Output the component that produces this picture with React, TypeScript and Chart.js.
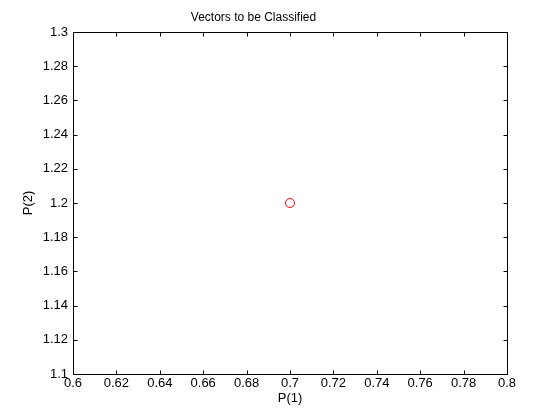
import React, { useEffect, useRef } from "react";
import { Chart, registerables } from "chart.js";

Chart.register(...registerables);

const titleText = "Vectors to be Classified";
const xLabel = "P(1)";
const yLabel = "P(2)";
const pointX = [0.7];
const pointY = [1.2];
const xRange = [0.6, 0.8];
const yRange = [1.1, 1.3];
const tickStep = 0.02;

const FONT = "'Liberation Sans', Arial, Helvetica, sans-serif";

const boxPlugin = {
  id: "matlabBox",
  afterDraw(chart: any) {
    const { ctx, chartArea } = chart;
    const { left, right, top, bottom } = chartArea;
    const xs = chart.scales.x;
    const ys = chart.scales.y;
    const len = 4;
    ctx.save();
    ctx.strokeStyle = "#000";
    ctx.lineWidth = 1;
    ctx.beginPath();
    ctx.rect(Math.round(left) + 0.5, Math.round(top) + 0.5, Math.round(right - left), Math.round(bottom - top));
    xs.ticks.forEach((t: any) => {
      const px = Math.round(xs.getPixelForValue(t.value)) + 0.5;
      ctx.moveTo(px, Math.round(bottom) + 0.5);
      ctx.lineTo(px, Math.round(bottom) + 0.5 - len);
      ctx.moveTo(px, Math.round(top) + 0.5);
      ctx.lineTo(px, Math.round(top) + 0.5 + len);
    });
    ys.ticks.forEach((t: any) => {
      const py = Math.round(ys.getPixelForValue(t.value)) + 0.5;
      ctx.moveTo(Math.round(left) + 0.5, py);
      ctx.lineTo(Math.round(left) + 0.5 + len, py);
      ctx.moveTo(Math.round(right) + 0.5, py);
      ctx.lineTo(Math.round(right) + 0.5 - len, py);
    });
    ctx.stroke();
    ctx.restore();
  },
};

const fmt = (v: any) => Number(Number(v).toFixed(2)).toString();

export default function App() {
  const ref = useRef<HTMLCanvasElement | null>(null);
  useEffect(() => {
    if (!ref.current) return;
    const chart = new Chart(ref.current, {
      type: "scatter",
      data: {
        datasets: [
          {
            data: pointX.map((x, i) => ({ x, y: pointY[i] })),
            pointStyle: "circle",
            pointRadius: 4.5,
            pointBorderWidth: 1,
            borderColor: "#ff0000",
            backgroundColor: "rgba(0,0,0,0)",
            pointBackgroundColor: "rgba(0,0,0,0)",
            pointBorderColor: "#ff0000",
          },
        ],
      },
      options: {
        animation: false,
        responsive: false,
        layout: { padding: { top: 0, right: 53, left: 0, bottom: 0 } },
        plugins: {
          legend: { display: false },
          tooltip: { enabled: false },
          title: {
            display: true,
            text: titleText,
            color: "#000",
            font: { family: FONT, size: 12, weight: "normal", lineHeight: 1.2 },
            padding: { top: 10, bottom: 7.6 },
          },
        },
        scales: {
          x: {
            type: "linear",
            min: xRange[0],
            max: xRange[1],
            grid: { display: false, drawTicks: false },
            border: { display: false },
            ticks: {
              stepSize: tickStep,
              color: "#000",
              padding: 2,
              maxRotation: 0,
              autoSkip: false,
              font: { family: FONT, size: 13 },
              callback: fmt,
            },
            title: {
              display: true,
              text: xLabel,
              color: "#000",
              font: { family: FONT, size: 13 },
              padding: { top: 14, bottom: 14 },
            },
            afterFit(scale: any) {
              scale.height = 46;
            },
          },
          y: {
            type: "linear",
            min: yRange[0],
            max: yRange[1],
            grid: { display: false, drawTicks: false },
            border: { display: false },
            ticks: {
              stepSize: tickStep,
              color: "#000",
              padding: 5,
              autoSkip: false,
              font: { family: FONT, size: 13 },
              callback: fmt,
            },
            title: {
              display: true,
              text: yLabel,
              color: "#000",
              font: { family: FONT, size: 13 },
              padding: { top: 21, bottom: 21 },
            },
            afterFit(scale: any) {
              scale.width = 73;
            },
          },
        },
      } as any,
      plugins: [boxPlugin],
    });
    return () => chart.destroy();
  }, []);
  return (
    <div style={{ position: "absolute", left: 0, top: 0, width: 560, height: 420, background: "#fff" }}>
      <canvas ref={ref} width={560} height={420} />
    </div>
  );
}
